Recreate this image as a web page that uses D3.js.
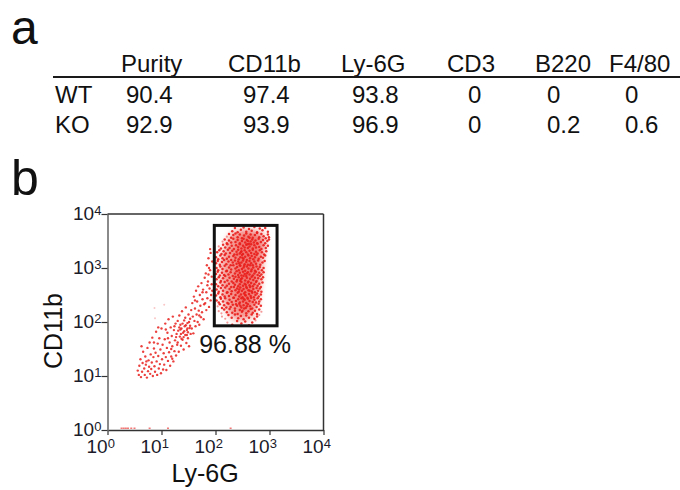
<!DOCTYPE html>
<html><head><meta charset="utf-8">
<script src="https://cdn.jsdelivr.net/npm/d3@7"></script>
<style>
body{margin:0;background:#fff;}
svg{display:block;font-family:"Liberation Sans",Arial,Helvetica,sans-serif;}
</style></head><body>
<svg id="c" width="680" height="490"></svg>
<script>
// ---------- Panel a: table ----------
const markers = ["Purity", "CD11b", "Ly-6G", "CD3", "B220", "F4/80"];
const genotypes = ["WT", "KO"];
const wtValues = [90.4, 97.4, 93.8, 0, 0, 0];
const koValues = [92.9, 93.9, 96.9, 0, 0.2, 0.6];

// ---------- Panel b: flow cytometry (log10 units: [Ly-6G, CD11b] pairs) ----------
const axisTicks = [1, 10, 100, 1000, 10000];
const tickExponents = ["0", "1", "2", "3", "4"];
const gateLy6G = [95, 1380];
const gateCD11b = [85, 6150];
const gatePercent = "96.88 %";
const xTitle = "Ly-6G";
const yTitle = "CD11b";

// dense core outline of the gated population (log10)
const coreOutline = [2.33,3.66, 2.62,3.70, 2.88,3.64, 2.92,3.48, 2.88,3.20, 2.86,2.95, 2.81,2.55,
  2.75,2.22, 2.64,2.07, 2.45,2.03, 2.30,2.09, 2.17,2.30, 2.10,2.70, 2.11,3.15, 2.20,3.46];
// densest streak inside the core (log10)
const peakOutline = [2.45,3.62, 2.70,3.66, 2.84,3.52, 2.80,3.10, 2.76,2.70, 2.70,2.35, 2.55,2.20, 2.42,2.35,
  2.36,2.75, 2.38,3.20];

const gateEvents = [
 2.31,3.68, 2.36,3.74, 2.41,3.66, 2.47,3.71, 2.52,3.75, 2.57,3.67, 2.62,3.72, 2.67,3.69, 2.72,3.76, 2.77,3.66, 2.82,3.73, 2.87,3.70, 2.92,3.74, 2.97,3.67,
 2.25,3.63, 2.29,3.56, 2.33,3.61, 2.37,3.64, 2.41,3.57, 2.45,3.62, 2.49,3.55, 2.53,3.60, 2.57,3.64, 2.61,3.58, 2.65,3.62, 2.69,3.56, 2.73,3.61, 2.77,3.65, 2.81,3.57, 2.85,3.63, 2.89,3.59, 2.93,3.55, 2.97,3.62, 2.99,3.57, 2.63,3.56,
 2.17,3.53, 2.21,3.46, 2.25,3.51, 2.29,3.47, 2.33,3.54, 2.37,3.48, 2.41,3.52, 2.45,3.46, 2.49,3.50, 2.52,3.54, 2.55,3.47, 2.58,3.52, 2.62,3.45, 2.65,3.49, 2.68,3.53, 2.71,3.47, 2.74,3.51, 2.77,3.46, 2.80,3.54, 2.84,3.48, 2.88,3.52, 2.92,3.46, 2.96,3.50, 2.99,3.53, 2.60,3.50,
 2.10,3.36, 2.14,3.43, 2.18,3.38, 2.22,3.44, 2.26,3.37, 2.30,3.41, 2.34,3.35, 2.38,3.42, 2.42,3.39, 2.45,3.44, 2.48,3.36, 2.51,3.41, 2.54,3.38, 2.57,3.43, 2.60,3.37, 2.63,3.40, 2.66,3.44, 2.69,3.36, 2.72,3.42, 2.75,3.38, 2.78,3.45, 2.81,3.39, 2.85,3.35, 2.89,3.42, 2.93,3.37, 2.97,3.41, 2.59,3.44,
 2.03,3.29, 2.07,3.33, 2.11,3.26, 2.15,3.31, 2.19,3.27, 2.23,3.34, 2.27,3.28, 2.31,3.32, 2.35,3.25, 2.39,3.30, 2.42,3.34, 2.45,3.27, 2.48,3.31, 2.51,3.26, 2.54,3.33, 2.57,3.29, 2.60,3.25, 2.63,3.32, 2.66,3.28, 2.69,3.34, 2.72,3.26, 2.75,3.30, 2.78,3.27, 2.82,3.33, 2.86,3.29, 2.90,3.25, 2.94,3.31, 2.47,3.29,
 2.01,3.20, 2.05,3.16, 2.09,3.23, 2.13,3.18, 2.17,3.24, 2.21,3.17, 2.25,3.21, 2.29,3.15, 2.33,3.22, 2.37,3.19, 2.40,3.25, 2.43,3.16, 2.46,3.20, 2.49,3.24, 2.52,3.17, 2.55,3.21, 2.58,3.15, 2.61,3.23, 2.64,3.18, 2.67,3.22, 2.70,3.16, 2.73,3.20, 2.76,3.24, 2.80,3.17, 2.84,3.21, 2.88,3.19, 2.92,3.23, 2.50,3.19,
 2.01,3.09, 2.04,3.13, 2.08,3.06, 2.12,3.11, 2.16,3.15, 2.20,3.07, 2.24,3.12, 2.28,3.05, 2.32,3.10, 2.36,3.14, 2.39,3.08, 2.42,3.12, 2.45,3.05, 2.48,3.10, 2.51,3.14, 2.54,3.07, 2.57,3.11, 2.60,3.06, 2.63,3.13, 2.66,3.09, 2.69,3.05, 2.72,3.12, 2.75,3.08, 2.79,3.14, 2.83,3.06, 2.87,3.10, 2.91,3.13, 2.44,3.09,
 2.02,3.00, 2.05,2.96, 2.09,3.03, 2.13,2.98, 2.17,3.04, 2.21,2.95, 2.25,3.01, 2.29,2.97, 2.33,3.05, 2.37,2.99, 2.40,3.02, 2.43,2.96, 2.46,3.04, 2.49,2.98, 2.52,3.01, 2.55,2.95, 2.58,3.03, 2.61,2.99, 2.64,3.05, 2.67,2.97, 2.70,3.01, 2.73,2.95, 2.76,3.03, 2.79,2.98, 2.82,3.02, 2.86,2.96, 2.89,3.00, 2.53,3.04,
 2.01,2.89, 2.04,2.93, 2.08,2.86, 2.12,2.91, 2.16,2.87, 2.20,2.94, 2.24,2.88, 2.28,2.92, 2.32,2.85, 2.36,2.90, 2.39,2.94, 2.42,2.87, 2.45,2.91, 2.48,2.86, 2.51,2.93, 2.54,2.89, 2.57,2.85, 2.60,2.92, 2.63,2.88, 2.66,2.94, 2.69,2.86, 2.72,2.90, 2.75,2.93, 2.78,2.87, 2.81,2.91, 2.85,2.88, 2.89,2.92, 2.58,2.90,
 2.02,2.79, 2.06,2.83, 2.10,2.76, 2.14,2.81, 2.18,2.85, 2.22,2.77, 2.26,2.82, 2.30,2.75, 2.34,2.80, 2.37,2.84, 2.40,2.78, 2.43,2.83, 2.46,2.76, 2.49,2.81, 2.52,2.85, 2.55,2.77, 2.58,2.82, 2.61,2.75, 2.64,2.80, 2.67,2.84, 2.70,2.78, 2.73,2.82, 2.76,2.76, 2.79,2.81, 2.82,2.85, 2.85,2.79, 2.88,2.83, 2.47,2.79,
 2.01,2.70, 2.05,2.66, 2.09,2.73, 2.13,2.68, 2.17,2.74, 2.21,2.67, 2.25,2.71, 2.29,2.65, 2.33,2.72, 2.36,2.69, 2.39,2.75, 2.42,2.66, 2.45,2.70, 2.48,2.74, 2.51,2.67, 2.54,2.71, 2.57,2.65, 2.60,2.73, 2.63,2.68, 2.66,2.72, 2.69,2.66, 2.72,2.70, 2.75,2.74, 2.78,2.67, 2.81,2.71, 2.84,2.65, 2.87,2.73, 2.56,2.69,
 2.02,2.60, 2.06,2.56, 2.10,2.63, 2.14,2.58, 2.18,2.64, 2.22,2.55, 2.26,2.61, 2.30,2.57, 2.34,2.65, 2.37,2.59, 2.40,2.62, 2.43,2.56, 2.46,2.64, 2.49,2.58, 2.52,2.61, 2.55,2.55, 2.58,2.63, 2.61,2.59, 2.64,2.65, 2.67,2.57, 2.70,2.61, 2.73,2.55, 2.76,2.63, 2.79,2.58, 2.82,2.62, 2.85,2.56, 2.44,2.60, 2.63,2.58,
 2.01,2.49, 2.05,2.53, 2.09,2.46, 2.13,2.51, 2.17,2.47, 2.21,2.54, 2.25,2.48, 2.29,2.52, 2.33,2.45, 2.37,2.50, 2.41,2.54, 2.44,2.47, 2.47,2.51, 2.50,2.46, 2.53,2.53, 2.56,2.49, 2.59,2.45, 2.62,2.52, 2.65,2.48, 2.68,2.54, 2.71,2.46, 2.74,2.50, 2.77,2.53, 2.80,2.47, 2.84,2.51, 2.55,2.50,
 2.02,2.40, 2.06,2.36, 2.10,2.43, 2.14,2.38, 2.18,2.44, 2.22,2.35, 2.26,2.41, 2.30,2.37, 2.34,2.45, 2.38,2.39, 2.42,2.42, 2.45,2.36, 2.48,2.44, 2.51,2.38, 2.54,2.41, 2.57,2.35, 2.60,2.43, 2.63,2.39, 2.66,2.45, 2.69,2.37, 2.72,2.41, 2.75,2.36, 2.78,2.44, 2.81,2.38, 2.84,2.42, 2.52,2.43,
 2.08,2.33, 2.12,2.26, 2.16,2.31, 2.20,2.27, 2.24,2.34, 2.28,2.28, 2.32,2.32, 2.36,2.25, 2.40,2.30, 2.44,2.34, 2.48,2.27, 2.52,2.31, 2.56,2.26, 2.60,2.33, 2.64,2.29, 2.68,2.25, 2.72,2.32, 2.76,2.28, 2.80,2.34, 2.84,2.30, 2.46,2.30, 2.58,2.29, 2.38,2.33,
 2.16,2.23, 2.21,2.18, 2.26,2.24, 2.31,2.17, 2.36,2.21, 2.41,2.15, 2.45,2.22, 2.49,2.19, 2.53,2.25, 2.57,2.16, 2.61,2.20, 2.65,2.24, 2.69,2.17, 2.73,2.21, 2.77,2.15, 2.81,2.23, 2.50,2.21,
 2.24,2.13, 2.30,2.08, 2.36,2.14, 2.42,2.07, 2.47,2.11, 2.52,2.05, 2.57,2.12, 2.62,2.08, 2.67,2.14, 2.72,2.06, 2.77,2.10,
 2.31,1.95, 2.40,2.02, 2.48,1.97, 2.55,2.01, 2.62,1.94, 2.68,1.99
];

// lighter outliers at the gate's rim
const gateRimEvents = [2.06,2.20, 2.11,2.16, 2.04,2.29, 2.12,2.10, 2.18,2.06, 2.22,1.99, 2.06,3.40, 2.13,3.49, 2.21,3.58,
  2.81,2.13, 2.85,2.19, 2.74,2.03];

const tailEvents = [
 0.56,1.10, 0.58,1.02, 0.59,1.19, 0.61,1.31, 0.62,0.98, 0.64,1.08, 0.65,1.24, 0.66,1.45, 0.68,1.14, 0.69,1.02, 0.70,1.36, 0.71,1.21, 0.73,0.97, 0.74,1.52, 0.75,1.09, 0.76,1.29, 0.77,1.17, 0.78,1.62, 0.79,1.04, 0.80,1.40, 0.63,1.55, 0.72,1.27,
 0.81,1.13, 0.82,1.25, 0.83,1.71, 0.84,1.00, 0.85,1.35, 0.86,1.51, 0.87,1.18, 0.88,1.08, 0.89,1.43, 0.90,1.82, 0.91,1.27, 0.92,1.02, 0.93,1.60, 0.94,1.37, 0.95,1.14, 0.96,1.70, 0.97,1.22, 0.98,1.49, 0.99,1.05, 1.00,1.88, 1.01,1.31, 1.02,1.58, 1.03,1.12, 1.04,1.42, 0.86,1.62, 0.94,1.90,
 1.05,1.21, 1.06,1.68, 1.07,1.97, 1.08,1.35, 1.09,1.11, 1.10,1.52, 1.11,1.80, 1.12,1.28, 1.13,2.05, 1.14,1.44, 1.15,1.62, 1.16,1.19, 1.17,1.90, 1.18,1.36, 1.19,1.74, 1.20,1.55, 1.21,2.10, 1.22,1.27, 1.23,1.85, 1.24,1.46, 1.25,1.66, 1.26,1.97, 1.27,1.38, 1.28,1.78, 1.29,1.58, 1.30,2.02, 1.12,1.70, 1.18,1.50, 1.24,1.92, 1.08,1.86, 1.20,1.32, 1.27,1.72,
 1.30,1.62, 1.31,1.84, 1.32,1.45, 1.33,2.12, 1.34,1.73, 1.35,1.95, 1.36,1.56, 1.37,1.88, 1.38,2.20, 1.39,1.67, 1.40,1.80, 1.41,1.49, 1.42,2.03, 1.43,1.92, 1.44,1.76, 1.45,2.27, 1.46,1.61, 1.47,1.85, 1.48,1.98, 1.49,1.70, 1.50,2.14, 1.51,1.55, 1.52,1.89, 1.53,2.06, 1.54,1.78, 1.55,2.22, 1.33,1.90, 1.36,1.78, 1.39,1.97, 1.42,1.83, 1.45,1.94, 1.48,1.88, 1.51,2.00, 1.37,1.69, 1.44,2.08, 1.49,1.81, 1.41,1.72, 1.35,1.86, 1.47,1.76, 1.53,1.93,
 1.56,1.88, 1.57,2.35, 1.58,2.10, 1.59,1.79, 1.60,2.47, 1.61,2.02, 1.62,2.25, 1.63,1.92, 1.64,2.58, 1.65,2.14, 1.66,2.38, 1.67,2.00, 1.68,2.66, 1.69,2.21, 1.70,1.95, 1.71,2.50, 1.72,2.30, 1.73,2.09, 1.74,2.72, 1.75,2.18, 1.76,2.42, 1.77,2.60, 1.78,2.05, 1.79,2.33, 1.80,2.82, 1.62,2.40, 1.70,2.12, 1.76,2.55,
 1.81,2.35, 1.82,2.90, 1.83,2.55, 1.84,3.05, 1.85,2.44, 1.86,2.75, 1.87,3.18, 1.88,2.28, 1.89,2.62, 1.90,2.96, 1.91,3.28, 1.92,2.50, 1.93,2.84, 1.94,3.12, 1.85,2.68, 1.88,3.00, 1.91,2.40, 1.93,2.70, 1.83,2.22, 1.90,3.35, 1.94,2.58, 1.87,2.88
];

// very faint isolated events
const faintEvents = [0.87,2.26, 0.88,2.07, 1.05,2.32];

// events piled on the CD11b = 10^0 baseline (Ly-6G log10 values)
const axisEvents = [0.26, 0.30, 0.34, 0.38, 0.44, 0.50, 0.78, 1.12, 2.28];

// ---------- drawing ----------
const svg = d3.select("#c");
const ink = "#111";

// Panel labels
svg.append("text").attr("x", 11).attr("y", 43.5).attr("font-size", 48).attr("fill", ink).text("a");
svg.append("text").attr("x", 11).attr("y", 195).attr("font-size", 50).attr("fill", ink).text("b");

// Table
const headerX = [121, 228, 341, 447, 535, 609];
const valueX = [126, 243, 352, 468, 547, 625];
const rowY = [103, 133];
const tbl = svg.append("g").attr("font-size", 24).attr("fill", ink);
tbl.selectAll("text.h").data(markers).join("text").attr("class", "h")
  .attr("x", (d, i) => headerX[i]).attr("y", 72).text(d => d);
svg.append("line").attr("x1", 53).attr("x2", 680).attr("y1", 77).attr("y2", 77)
  .attr("stroke", "#1a1a1a").attr("stroke-width", 2);
const rows = [wtValues, koValues];
genotypes.forEach((g, r) => {
  tbl.append("text").attr("x", 55).attr("y", rowY[r]).text(g);
  tbl.selectAll("text.v" + r).data(rows[r]).join("text").attr("class", "v" + r)
    .attr("x", (d, i) => valueX[i]).attr("y", rowY[r]).text(d => String(d));
});

// Scatter plot
const L = 107.5, R = 323.5, T = 214, B = 430;
const x = d3.scaleLog().domain([1, 1e4]).range([L, R]);
const y = d3.scaleLog().domain([1, 1e4]).range([B, T]);
const p10 = v => Math.pow(10, v);
const pairs = arr => d3.range(0, arr.length, 2).map(i => [arr[i], arr[i + 1]]);

const defs = svg.append("defs");
defs.append("filter").attr("id", "soft").attr("x", "-30%").attr("y", "-30%").attr("width", "160%").attr("height", "160%")
  .append("feGaussianBlur").attr("stdDeviation", 3);
defs.append("clipPath").attr("id", "plotclip").append("rect")
  .attr("x", L).attr("y", T).attr("width", R - L).attr("height", B - T);

const red = "#e8201c";
const plot = svg.append("g").attr("clip-path", "url(#plotclip)");
const area = d3.line().x(d => x(p10(d[0]))).y(d => y(p10(d[1]))).curve(d3.curveCatmullRomClosed);

plot.append("path").datum(pairs(coreOutline)).attr("d", area)
  .attr("fill", red).attr("fill-opacity", 0.45).attr("filter", "url(#soft)");
plot.append("path").datum(pairs(peakOutline)).attr("d", area)
  .attr("fill", red).attr("fill-opacity", 0.3).attr("filter", "url(#soft)");

function dots(cls, data, r, op) {
  plot.selectAll("circle." + cls).data(pairs(data)).join("circle").attr("class", cls)
    .attr("cx", d => x(p10(d[0]))).attr("cy", d => y(p10(d[1]))).attr("r", r)
    .attr("fill", red).attr("fill-opacity", op);
}
dots("rim", gateRimEvents, 1.1, 0.45);
dots("g", gateEvents, 1.25, 0.92);
dots("t", tailEvents, 1.2, 0.85);
dots("f", faintEvents, 1.0, 0.25);

plot.selectAll("rect.a").data(axisEvents).join("rect").attr("class", "a")
  .attr("x", d => x(p10(d)) - 1).attr("y", B - 2.5).attr("width", 2).attr("height", 1.5)
  .attr("fill", red).attr("fill-opacity", 0.6);

// Frame and axes
const xAxis = svg.append("g").attr("transform", `translate(0,${B})`)
  .call(d3.axisBottom(x).tickValues(axisTicks).tickSize(5).tickSizeOuter(0).tickFormat(""));
xAxis.select(".domain").attr("stroke", "#333").attr("stroke-width", 1.5);
xAxis.selectAll(".tick line").attr("stroke", "#333").attr("stroke-width", 1.2);

const yAxis = svg.append("g").attr("transform", `translate(${L},0)`)
  .call(d3.axisLeft(y).tickValues(axisTicks).tickSize(6).tickSizeOuter(0).tickFormat(""));
yAxis.select(".domain").attr("stroke", "#8a8a8a").attr("stroke-width", 2);
yAxis.selectAll(".tick line").attr("stroke", "#333").attr("stroke-width", 1.2);

svg.append("line").attr("x1", L).attr("x2", R).attr("y1", T).attr("y2", T).attr("stroke", "#333").attr("stroke-width", 1.5);
svg.append("line").attr("x1", R).attr("x2", R).attr("y1", T).attr("y2", B).attr("stroke", "#333").attr("stroke-width", 1.5);

// Tick labels with superscript exponents
const tickInk = "#1b1b2a";
axisTicks.forEach((v, i) => {
  const tx = svg.append("text").attr("x", x(v) - 21).attr("y", 453).attr("font-size", 19).attr("fill", tickInk);
  tx.append("tspan").text("10");
  tx.append("tspan").attr("font-size", 13).attr("dy", -5).text(tickExponents[i]);
  const ty = svg.append("text").attr("x", 73).attr("y", y(v) + 6).attr("font-size", 19).attr("fill", tickInk);
  ty.append("tspan").text("10");
  ty.append("tspan").attr("font-size", 13).attr("dy", -5).text(tickExponents[i]);
});

// Gate
svg.append("rect")
  .attr("x", x(gateLy6G[0])).attr("y", y(gateCD11b[1]))
  .attr("width", x(gateLy6G[1]) - x(gateLy6G[0])).attr("height", y(gateCD11b[0]) - y(gateCD11b[1]))
  .attr("fill", "none").attr("stroke", "#111").attr("stroke-width", 3);
svg.append("text").attr("x", 245).attr("y", 353)
  .attr("text-anchor", "middle").attr("font-size", 25).attr("fill", ink).text(gatePercent);

// Axis titles
svg.append("text").attr("x", 205).attr("y", 482).attr("text-anchor", "middle")
  .attr("font-size", 25).attr("fill", ink).text(xTitle);
svg.append("text").attr("transform", "translate(62,331) rotate(-90)").attr("text-anchor", "middle")
  .attr("font-size", 25).attr("fill", ink).text(yTitle);
</script>
</body></html>
